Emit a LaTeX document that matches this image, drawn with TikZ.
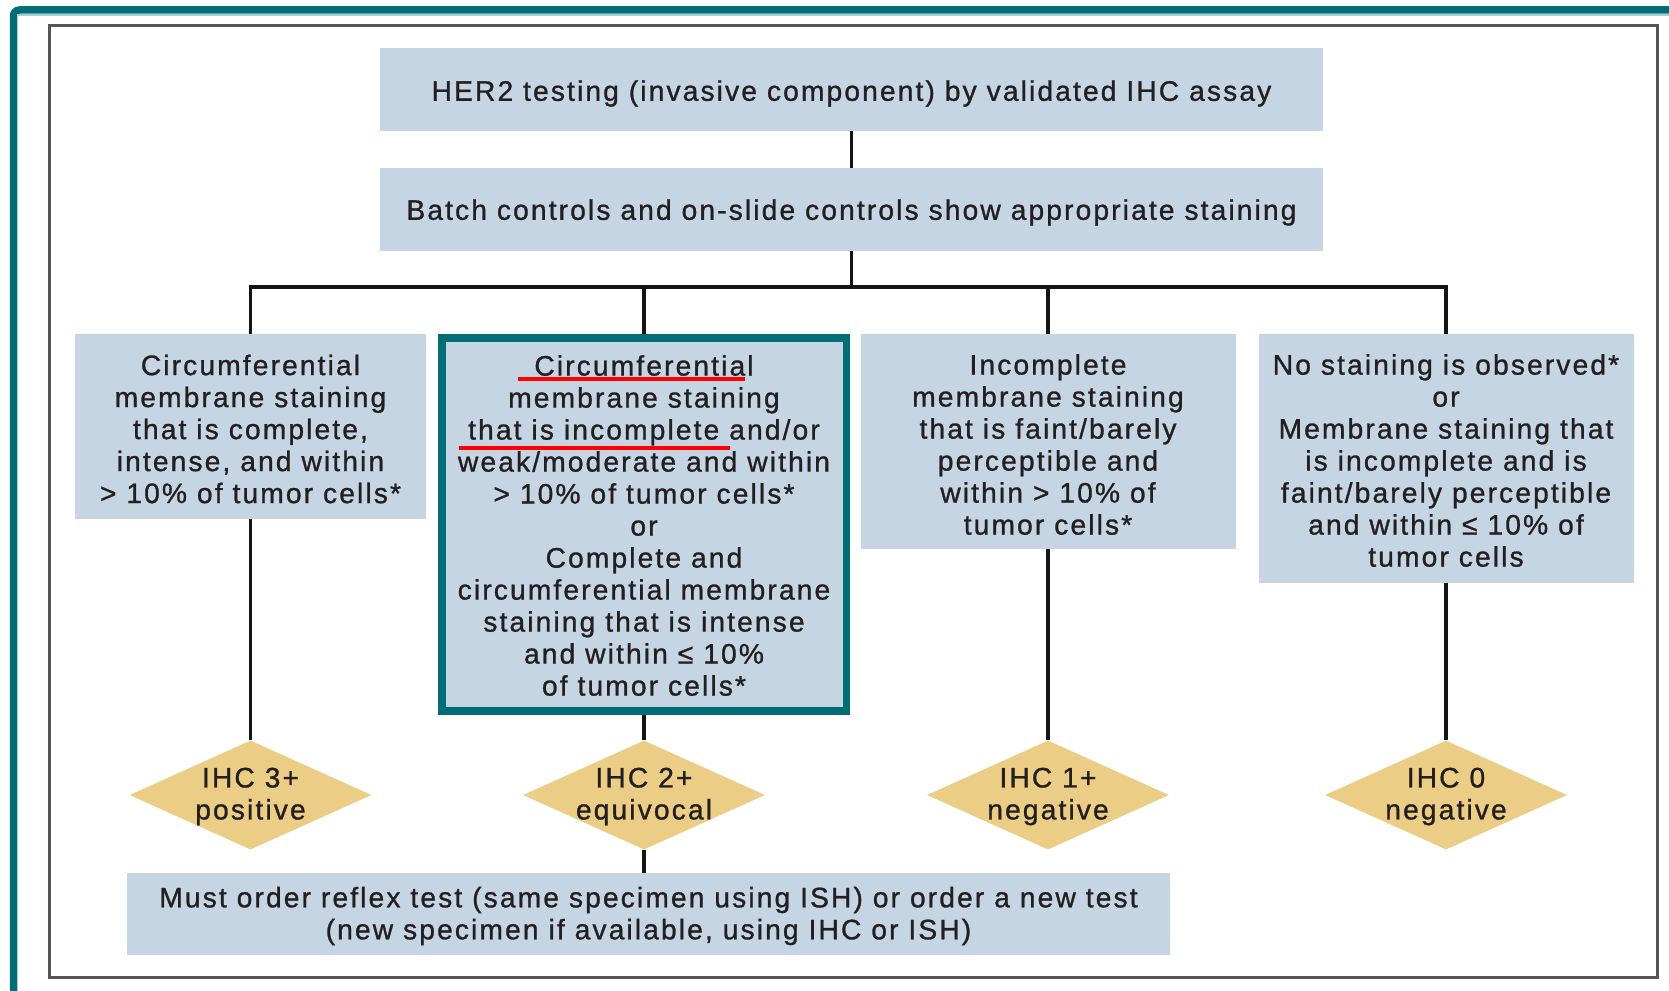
\documentclass[tikz,border=0pt]{standalone}
\usepackage{fontspec}
\setmainfont{Liberation Sans}[LetterSpace=7.5,FakeBold=1]
\usetikzlibrary{shapes.geometric}
\definecolor{boxblue}{HTML}{C5D5E4}
\definecolor{gold}{HTML}{ECCD85}
\definecolor{tealc}{HTML}{006D77}
\definecolor{tealpale}{HTML}{A8CCD3}
\definecolor{txt}{HTML}{231F20}
\definecolor{framegray}{HTML}{555555}
\newcommand{\boxfont}{\fontsize{28.2}{32}\selectfont}
\tikzset{
 box/.style={fill=boxblue, draw=none, inner sep=0pt},
 hbox/.style={box, draw=tealc, line width=7.5pt},
 diam/.style={diamond, fill=gold, draw=none, inner sep=0pt, minimum width=242pt, minimum height=109pt},
 lbl/.style={align=center, text=txt, font=\boxfont, inner sep=0pt},
 conn/.style={line width=3.5pt, black!92},
 redline/.style={red, line width=4.5pt},
}
\begin{document}
\begin{tikzpicture}[x=1pt,y=-1pt]
\useasboundingbox (0,0) rectangle (1669,990);
% frames
\draw[tealc, line width=7.5pt, rounded corners=6pt] (13.5,1000) -- (13.5,10) -- (1690,10);
\draw[tealpale, line width=1.5pt] (17.3,14.8) -- (1690,14.8);
\draw[framegray, line width=2.8pt] (49.5,25.5) rectangle (1657.5,977.5);
% boxes
\node[box, minimum width=943pt, minimum height=83pt] (n1) at (851.5,89.5) {};
\node[lbl, yshift=-4pt] (n1t) at (n1) {HER2 testing (invasive component) by validated IHC assay};
\node[box, minimum width=943pt, minimum height=83pt] (n2) at (851.5,209.5) {};
\node[lbl, yshift=-3pt] (n2t) at (n2) {Batch controls and on-slide controls show appropriate staining};
\node[box, minimum width=351pt, minimum height=185pt] (b1) at (250.5,426.5) {};
\node[lbl, yshift=-2.5pt] (b1t) at (b1) {Circumferential\\membrane staining\\that is complete,\\intense, and within\\> 10\% of tumor cells*};
\node[hbox, minimum width=404.5pt, minimum height=373pt] (b2) at (644,524.5) {};
\node[lbl, yshift=-1pt] (b2t) at (b2) {Circumferential\\membrane staining\\that is incomplete and/or\\weak/moderate and within\\> 10\% of tumor cells*\\or\\Complete and\\circumferential membrane\\staining that is intense\\and within ≤ 10\%\\of tumor cells*};
\node[box, minimum width=375pt, minimum height=215pt] (b3) at (1048,441.5) {};
\node[lbl, yshift=-3pt] (b3t) at (b3) {Incomplete\\membrane staining\\that is faint/barely\\perceptible and\\within > 10\% of\\tumor cells*};
\node[box, minimum width=375pt, minimum height=249pt] (b4) at (1446,458.5) {};
\node[lbl, yshift=-2pt] (b4t) at (b4) {No staining is observed*\\or\\Membrane staining that\\is incomplete and is\\faint/barely perceptible\\and within ≤ 10\% of\\tumor cells};
% diamonds
\node[diam] (d1) at (250.5,795) {};
\node[diam] (d2) at (644,795) {};
\node[diam] (d3) at (1048,795) {};
\node[diam] (d4) at (1446,795) {};
\node[lbl, yshift=-1.5pt] (t1) at (d1) {IHC 3+\\positive};
\node[lbl, yshift=-1.5pt] (t2) at (d2) {IHC 2+\\equivocal};
\node[lbl, yshift=-1.5pt] (t3) at (d3) {IHC 1+\\negative};
\node[lbl, yshift=-1.5pt] (t4) at (d4) {IHC 0\\negative};
\node[box, minimum width=1043pt, minimum height=82pt] (bb) at (648.5,914) {};
\node[lbl, yshift=-2pt] (bbt) at (bb) {Must order reflex test (same specimen using ISH) or order a new test\\(new specimen if available, using IHC or ISH)};
% connectors
\coordinate (j) at (851.5,287);
\draw[conn] (n1) -- (n2);
\draw[conn] (n2.south) -- (j);
\draw[conn] (b1.north) |- (j) -| (b4.north);
\draw[conn] (b2.north) -- (b2.north |- j);
\draw[conn] (b3.north) -- (b3.north |- j);
\draw[conn] (b1.south) -- (d1.north);
\draw[conn] (b2.south) -- (d2.north);
\draw[conn] (b3.south) -- (d3.north);
\draw[conn] (b4.south) -- (d4.north);
\draw[conn] (d2.south) -- (d2.south |- bb.north);
% red underlines
\draw[redline] (518,379) -- (745,379);
\draw[redline] (459,448) -- (730,448);
\end{tikzpicture}
\end{document}
